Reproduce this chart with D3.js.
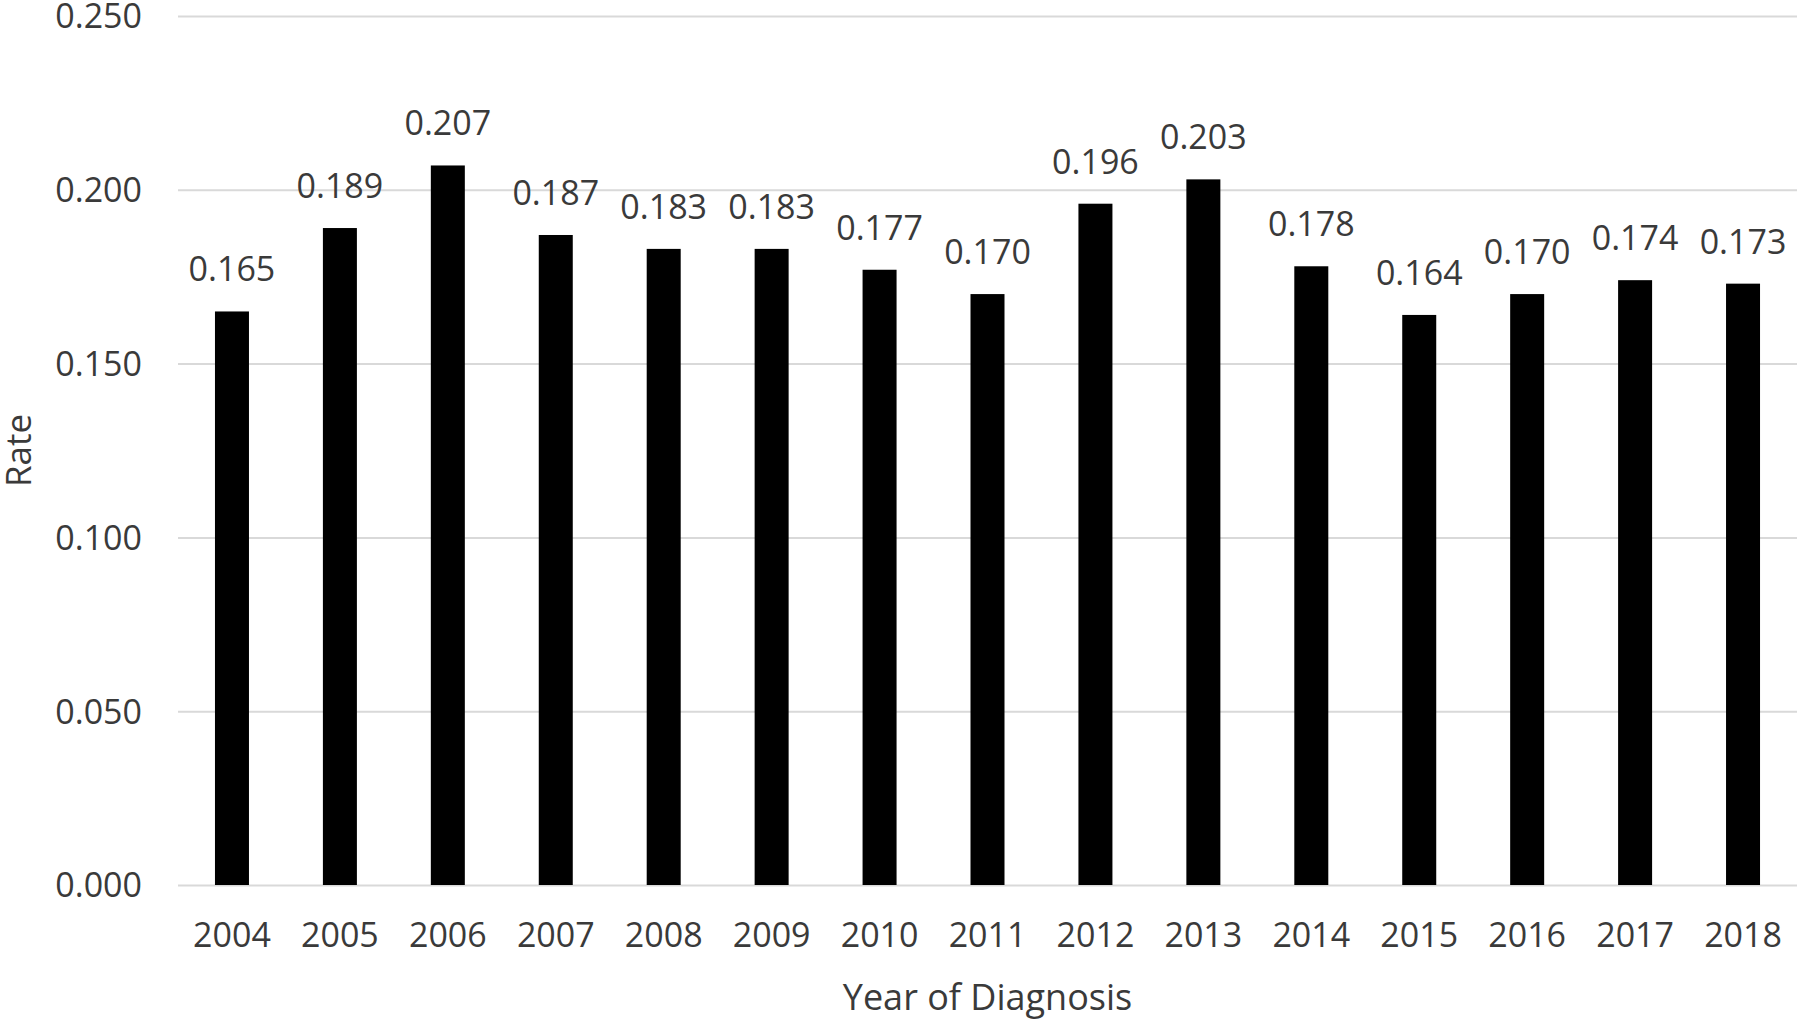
<!DOCTYPE html>
<html>
<head>
<meta charset="utf-8">
<script src="https://cdn.jsdelivr.net/npm/d3@7"></script>
<style>
    body { margin: 0; background: #fff; }
    svg text { font-family: "Open Sans", "Liberation Sans", sans-serif; fill: #3a3a3a; }
</style>
</head>
<body>
<div class="svg-target"></div>
<script>
// Data
const years = ['2004', '2005', '2006', '2007', '2008', '2009', '2010', '2011', '2012', '2013', '2014', '2015', '2016', '2017', '2018'];
const rates = [0.165, 0.189, 0.207, 0.187, 0.183, 0.183, 0.177, 0.170, 0.196, 0.203, 0.178, 0.164, 0.170, 0.174, 0.173];
const yTicks = [0, 0.05, 0.1, 0.15, 0.2, 0.25];

const w = 1800;
const h = 1022;
const padding = {t: 16, r: 3, b: 137, l: 178};

const svg = d3.select('.svg-target')
    .append('svg')
    .attr('width', w)
    .attr('height', h);

// scales
const xScale = d3.scaleBand()
    .domain(years)
    .range([padding.l, w - padding.r])
    .paddingInner(0.685)
    .paddingOuter(0.3425);

const yScale = d3.scaleLinear()
    .domain([0, 0.25])
    .range([h - padding.b, padding.t]);

// y axis + gridlines
const yAxis = d3.axisLeft(yScale)
    .tickValues(yTicks)
    .tickFormat(d3.format('.3f'))
    .tickSize(-(w - padding.l - padding.r))
    .tickPadding(36);
svg.append('g')
    .attr('id', 'y-axis')
    .attr('transform', `translate(${padding.l}, 0)`)
    .call(yAxis)
    .call(g => g.select('.domain').remove())
    .call(g => g.selectAll('.tick line').attr('stroke', '#d9d9d9').attr('stroke-width', 2))
    .call(g => g.selectAll('.tick text')
        .attr('font-size', 34)
        .attr('dy', '0.35em'));

// bars
svg.append('g')
    .selectAll('rect')
    .data(rates)
    .join('rect')
    .attr('x', (d, i) => xScale(years[i]))
    .attr('y', d => yScale(d))
    .attr('width', xScale.bandwidth())
    .attr('height', d => yScale(0) - yScale(d))
    .attr('fill', '#000');

// value labels
svg.append('g')
    .selectAll('text')
    .data(rates)
    .join('text')
    .attr('x', (d, i) => xScale(years[i]) + xScale.bandwidth() / 2)
    .attr('y', d => yScale(d) - 30)
    .attr('text-anchor', 'middle')
    .attr('font-size', 34)
    .text(d => d3.format('.3f')(d));

// x axis
const xAxis = d3.axisBottom(xScale).tickSize(0).tickPadding(38);
svg.append('g')
    .attr('id', 'x-axis')
    .attr('transform', `translate(0, ${h - padding.b})`)
    .call(xAxis)
    .call(g => g.select('.domain').remove())
    .call(g => g.selectAll('.tick text').attr('font-size', 34).attr('dy', '0.71em').attr('y', 38));

// axis titles
svg.append('text')
    .attr('x', (padding.l + w - padding.r) / 2)
    .attr('y', 1010)
    .attr('text-anchor', 'middle')
    .attr('font-size', 36)
    .text('Year of Diagnosis');

svg.append('text')
    .attr('transform', `translate(31, ${(padding.t + h - padding.b) / 2}) rotate(-90)`)
    .attr('text-anchor', 'middle')
    .attr('font-size', 35)
    .text('Rate');
</script>
</body>
</html>
